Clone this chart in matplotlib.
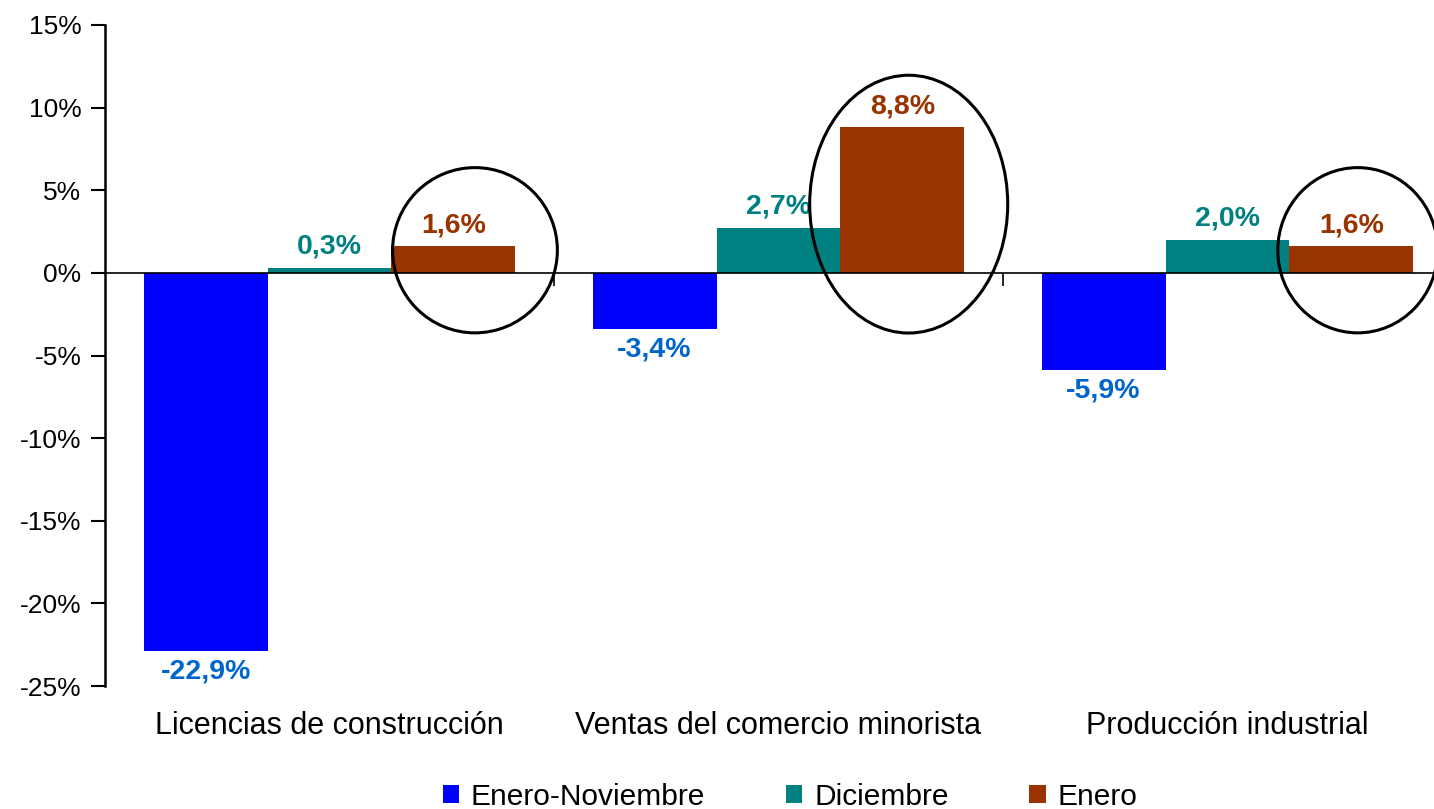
import matplotlib.pyplot as plt
from matplotlib.patches import Ellipse
import numpy as np

plt.rcParams['font.family'] = ['Liberation Sans', 'DejaVu Sans']

categories = ['Licencias de construcción', 'Ventas del comercio minorista', 'Producción industrial']
series_names = ['Enero-Noviembre', 'Diciembre', 'Enero']
ene_nov = [-22.9, -3.4, -5.9]
diciembre = [0.3, 2.7, 2.0]
enero = [1.6, 8.8, 1.6]
yticks = [-25, -20, -15, -10, -5, 0, 5, 10, 15]

bar_colors = ['#0000FF', '#008080', '#993300']
label_colors = ['#0066CC', '#008080', '#993300']

fig = plt.figure(figsize=(14.34, 8.09), dpi=100)
ax = fig.add_axes([105 / 1434, 1 - 686 / 809, 1347 / 1434, 661 / 809])

x = np.arange(len(categories))
w = 0.276
for k, vals in enumerate([ene_nov, diciembre, enero]):
    pos = x + (k - 1) * w
    ax.bar(pos, vals, width=w, color=bar_colors[k], label=series_names[k], zorder=2)
    for xp, v in zip(pos, vals):
        txt = f'{v:.1f}%'.replace('.', ',')
        if v >= 0:
            ax.annotate(txt, (xp, v), xytext=(0, 6), textcoords='offset points',
                        ha='center', va='bottom', fontsize=20.5, fontweight='bold',
                        color=label_colors[k])
        else:
            ax.annotate(txt, (xp, v), xytext=(0, -5), textcoords='offset points',
                        ha='center', va='top', fontsize=20.5, fontweight='bold',
                        color=label_colors[k])

# circles around the January bars
for cx, cy, ew, eh in [(0.324, 1.37, 0.367, 10.0), (1.29, 4.16, 0.441, 15.6), (2.29, 1.37, 0.356, 10.0)]:
    ax.add_patch(Ellipse((cx, cy), ew, eh, fill=False, edgecolor='black', linewidth=2.2, zorder=3))

ax.set_xlim(-0.5, 2.5)
ax.set_ylim(-25, 15)
ax.set_yticks(yticks)
ax.set_yticklabels([f'{t}%' for t in yticks], fontsize=19)
ax.tick_params(axis='y', length=10, width=1.5, pad=7)

ax.spines['top'].set_visible(False)
ax.spines['right'].set_visible(False)
ax.spines['left'].set_linewidth(1.8)
ax.spines['bottom'].set_position(('data', 0))
ax.spines['bottom'].set_linewidth(1.2)
ax.set_xticks([0.5, 1.5])
ax.set_xticklabels([])
ax.tick_params(axis='x', direction='out', length=9, width=1.2)

for i, c in enumerate(categories):
    ax.text(i, -27.4, c, ha='center', va='center', fontsize=22, clip_on=False)

fig.legend(loc='center', bbox_to_anchor=(0.551, 12 / 809), ncol=3, frameon=False,
           fontsize=21.5, handlelength=0.55, handleheight=0.55, handletextpad=0.4,
           columnspacing=2.7)

fig.savefig('out.png', dpi=100)
